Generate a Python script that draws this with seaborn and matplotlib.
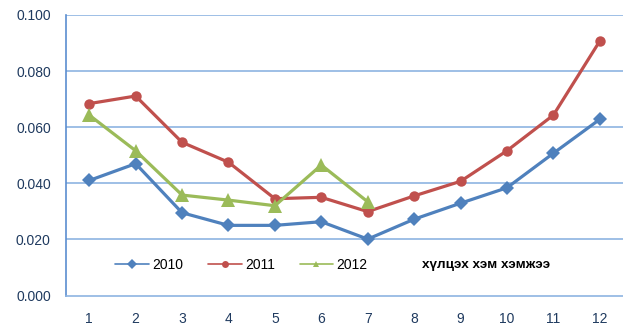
import matplotlib
matplotlib.use("Agg")
import matplotlib.pyplot as plt
from matplotlib.lines import Line2D
import seaborn as sns
import pandas as pd

months = [1, 2, 3, 4, 5, 6, 7, 8, 9, 10, 11, 12]
v2010 = [0.041, 0.047, 0.0295, 0.025, 0.025, 0.0263, 0.0201, 0.0272, 0.0329, 0.0384, 0.0507, 0.0628]
v2011 = [0.0684, 0.0711, 0.0546, 0.0475, 0.0345, 0.035, 0.0299, 0.0355, 0.0407, 0.0516, 0.0643, 0.0907]
v2012 = [0.0643, 0.0516, 0.0358, 0.034, 0.032, 0.0465, 0.0334]
years = ["2010", "2011", "2012"]
colors = {"2010": "#4F81BD", "2011": "#C0504D", "2012": "#9BBB59"}
markers = {"2010": "D", "2011": "o", "2012": "^"}
marker_sizes = {"2010": 7.5, "2011": 7.5, "2012": 9.5}
note = "хүлцэх хэм хэмжээ"
yticks = [0.0, 0.02, 0.04, 0.06, 0.08, 0.10]

rows = []
for yr, vals in zip(years, [v2010, v2011, v2012]):
    for m, v in zip(months, vals):
        rows.append({"month": m, "value": v, "year": yr})
df = pd.DataFrame(rows)

sns.set_theme(style="white")
plt.rcParams["font.family"] = ["Liberation Sans", "DejaVu Sans"]

fig = plt.figure(figsize=(6.23, 3.27), dpi=100)
ax = fig.add_axes([0.106, 0.0963, 0.894, 0.858])

text_col = "#1F3A5F"
grid_col = "#8DB4E2"
axis_col = "#5B8ED0"

for yr in years:
    sub = df[df["year"] == yr]
    sns.lineplot(data=sub, x="month", y="value", ax=ax, color=colors[yr],
                 marker=markers[yr], markersize=marker_sizes[yr],
                 markeredgewidth=0, linewidth=2.3, legend=False)

ax.set_xlim(0.5, 12.5)
ax.set_ylim(0, 0.10)
ax.set_yticks(yticks)
ax.set_yticklabels([f"{t:.3f}" for t in yticks])
ax.set_xticks(months)
ax.set_xticks([m + 0.5 for m in months], minor=True)
ax.set_xlabel("")
ax.set_ylabel("")

for t in yticks[1:]:
    ax.axhline(t, color=grid_col, linewidth=1.2, zorder=0)

for s in ["top", "right"]:
    ax.spines[s].set_visible(False)
ax.spines["left"].set_color(axis_col)
ax.spines["left"].set_linewidth(1.2)
ax.spines["bottom"].set_color(grid_col)
ax.spines["bottom"].set_linewidth(1.2)

ax.tick_params(axis="x", which="major", length=0, pad=12, labelsize=10, labelcolor=text_col)
ax.tick_params(axis="x", which="minor", length=3, width=1, color=grid_col, direction="out")
ax.tick_params(axis="y", which="major", length=3, width=1, color=axis_col, direction="out",
               labelsize=10, labelcolor=text_col, pad=8)

handles = [Line2D([0], [0], color=colors[yr], marker=markers[yr], markersize=5,
                  markeredgewidth=0, linewidth=1.2, label=yr) for yr in years]
leg = ax.legend(handles=handles, ncol=3, frameon=False, loc="center left",
                bbox_to_anchor=(0.066, 0.109), handlelength=2.44, handletextpad=0.22,
                columnspacing=1.78, fontsize=10)
for t in leg.get_texts():
    t.set_color("#000000")

ax.text(0.639, 0.109, note, transform=ax.transAxes, fontsize=9.7, fontweight="bold",
        va="center", ha="left", color="#000000")

fig.savefig("out.png", dpi=100)
